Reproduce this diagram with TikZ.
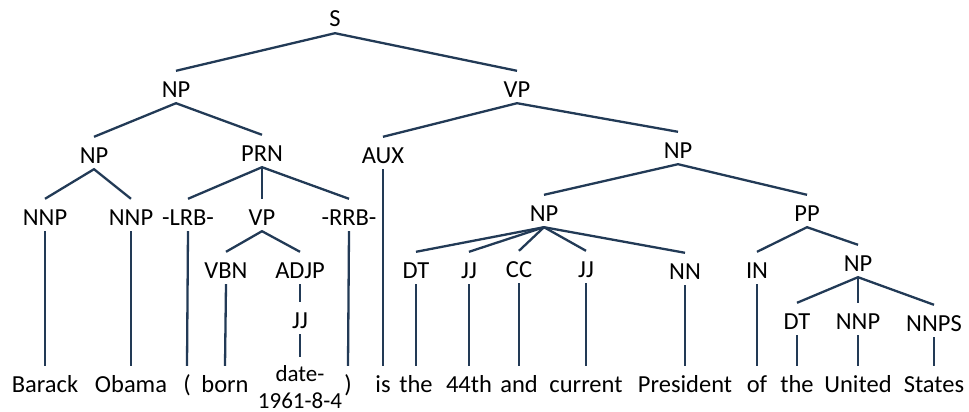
\documentclass[tikz,border=0pt]{standalone}
\usepackage{fontspec}
\setmainfont{Carlito}
\definecolor{edgecol}{RGB}{34,58,86}
\begin{document}
\begin{tikzpicture}[x=1pt,y=-1pt,
  lab/.style={anchor=base,inner sep=0pt,text height=26pt,text depth=6pt,font=\fontsize{24.5}{28}\selectfont},
  wrd/.style={anchor=base,inner sep=0pt,text height=26pt,text depth=6pt,font=\fontsize{24.5}{28}\selectfont},
  smallwrd/.style={anchor=base,inner sep=0pt,text height=24pt,text depth=1pt,font=\fontsize{23}{26}\selectfont},
  edge/.style={draw=edgecol,line width=2.3pt}]
\useasboundingbox (0,0) rectangle (969,412);
% labels
\node[lab] (S) at (335,27) {S};
\node[lab] (NPa) at (176,97) {NP};
\node[lab] (VPa) at (517,97) {VP};
\node[lab] (NPb) at (94,163) {NP};
\node[lab] (PRN) at (262,161) {PRN};
\node[lab] (AUX) at (383,163) {AUX};
\node[lab] (NPc) at (678,158) {NP};
\node[lab] (NNPa) at (45,225) {NNP};
\node[lab] (NNPb) at (131,225) {NNP};
\node[lab] (LRB) at (188,225) {-LRB-};
\node[lab] (VPb) at (262,225) {VP};
\node[lab] (RRB) at (349,225) {-RRB-};
\node[lab] (NPd) at (544,221) {NP};
\node[lab] (PP) at (807,221) {PP};
\node[lab] (VBN) at (226,278) {VBN};
\node[lab] (ADJP) at (300,278) {ADJP};
\node[lab] (DTa) at (416,278) {DT};
\node[lab] (JJa) at (469,278) {JJ};
\node[lab] (CC) at (519,277) {CC};
\node[lab] (JJb) at (586,277) {JJ};
\node[lab] (NN) at (685,279) {NN};
\node[lab] (IN) at (757,278) {IN};
\node[lab] (NPe) at (858,271) {NP};
\node[lab] (JJc) at (300,328) {JJ};
\node[lab] (DTb) at (797,329) {DT};
\node[lab] (NNPc) at (858,329) {NNP};
\node[lab] (NNPS) at (934,331) {NNPS};
% words
\node[wrd] (w1) at (45,392) {Barack};
\node[wrd] (w2) at (131,392) {Obama};
\node[wrd] (w3) at (187,392) {(};
\node[wrd] (w4) at (225,392) {born};
\node[smallwrd] (w5) at (300,381) {date-};
\node[smallwrd] (w5b) at (300,408) {1961-8-4};
\node[wrd] (w6) at (348,392) {)};
\node[wrd] (w7) at (383,392) {is};
\node[wrd] (w8) at (416,392) {the};
\node[wrd] (w9) at (469,392) {44th};
\node[wrd] (w10) at (519,392) {and};
\node[wrd] (w11) at (586,392) {current};
\node[wrd] (w12) at (685,392) {President};
\node[wrd] (w13) at (757,392) {of};
\node[wrd] (w14) at (797,392) {the};
\node[wrd] (w15) at (858,392) {United};
\node[wrd] (w16) at (934,392) {States};
% edges
\draw[edge] (NPa.north) -- (S.south) -- (VPa.north);
\draw[edge] (NPb.north) -- (NPa.south) -- (PRN.north);
\draw[edge] (AUX.north) -- (VPa.south) -- (NPc.north);
\draw[edge] (NNPa.north) -- (NPb.south) -- (NNPb.north);
\draw[edge] (LRB.north) -- (PRN.south) -- (RRB.north);
\draw[edge] (PRN.south) -- (VPb.north);
\draw[edge] (NPd.north) -- (NPc.south) -- (PP.north);
\draw[edge] (VBN.north) -- (VPb.south) -- (ADJP.north);
\draw[edge] (NPd.south) -- (DTa.north);
\draw[edge] (NPd.south) -- (JJa.north);
\draw[edge] (NPd.south) -- (CC.north);
\draw[edge] (NPd.south) -- (JJb.north);
\draw[edge] (NPd.south) -- (NN.north);
\draw[edge] (IN.north) -- (PP.south) -- (NPe.north);
\draw[edge] (DTb.north) -- (NPe.south) -- (NNPS.north);
\draw[edge] (NPe.south) -- (NNPc.north);
\draw[edge] (ADJP.south) -- (JJc.north);
\draw[edge] (JJc.south) -- (w5.north);
\draw[edge] (NNPa.south) -- (w1.north);
\draw[edge] (NNPb.south) -- (w2.north);
\draw[edge] (LRB.south) -- (w3.north);
\draw[edge] (VBN.south) -- (w4.north);
\draw[edge] (RRB.south) -- (w6.north);
\draw[edge] (AUX.south) -- (w7.north);
\draw[edge] (DTa.south) -- (w8.north);
\draw[edge] (JJa.south) -- (w9.north);
\draw[edge] (CC.south) -- (w10.north);
\draw[edge] (JJb.south) -- (w11.north);
\draw[edge] (NN.south) -- (w12.north);
\draw[edge] (IN.south) -- (w13.north);
\draw[edge] (DTb.south) -- (w14.north);
\draw[edge] (NNPc.south) -- (w15.north);
\draw[edge] (NNPS.south) -- (w16.north);
\end{tikzpicture}
\end{document}
